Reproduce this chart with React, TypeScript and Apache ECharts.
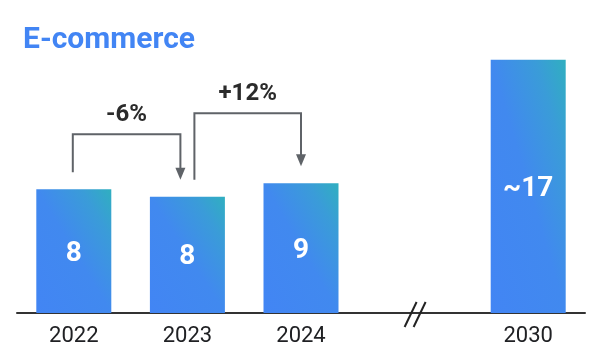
import React, { useEffect, useRef } from "react";
import * as echarts from "echarts";

const categories = ["2022", "2023", "2024", "", "2030"];
const values: (number | null)[] = [8.3, 7.8, 8.7, null, 17];
const valueLabels = ["8", "8", "9", "", "~17"];
// [fromIndex, toIndex, bracketLevel]
const changeBrackets = [
  [0, 1, 12.0],
  [1, 2, 13.4],
];
const changeLabels = ["-6%", "+12%"];
const breakAt = [[3, 0]];

const FONT = "Roboto, sans-serif";

export default function App() {
  const ref = useRef<HTMLDivElement>(null);
  useEffect(() => {
    document.body.style.margin = "0";
    const chart = echarts.init(ref.current!, null, { renderer: "svg" });
    const incoming = new Set(changeBrackets.map((b) => b[1]));
    const outgoing = new Set(changeBrackets.map((b) => b[0]));
    const lineColor = "#5f6368";

    chart.setOption({
      animation: false,
      title: {
        text: "E-commerce",
        left: 18,
        top: 17,
        textStyle: { color: "#4285F4", fontSize: 30, fontWeight: "bold", fontFamily: FONT },
      },
      grid: { left: 17, right: 19, top: 15, bottom: 45 },
      xAxis: {
        type: "category",
        data: categories,
        axisLine: { lineStyle: { color: "#333", width: 2 } },
        axisTick: { show: false },
        axisLabel: { color: "#202124", fontSize: 22, fontFamily: FONT, margin: 10 },
      },
      yAxis: { type: "value", min: 0, max: 20, show: false, splitLine: { show: false } },
      series: [
        {
          type: "bar",
          data: values,
          barWidth: 75,
          itemStyle: {
            color: new echarts.graphic.LinearGradient(0, 1, 1, 0, [
              { offset: 0, color: "#4285F4" },
              { offset: 0.5, color: "#4189ef" },
              { offset: 0.8, color: "#3a9cd8" },
              { offset: 1, color: "#30afc0" },
            ]),
          },
          label: {
            show: true,
            position: "inside",
            color: "#fff",
            fontSize: 28,
            fontWeight: "bold",
            fontFamily: FONT,
            formatter: (p: any) => valueLabels[p.dataIndex],
          },
        },
        {
          type: "custom",
          data: changeBrackets,
          encode: { x: [0, 1], y: 2 },
          z: 5,
          renderItem: (params: any, api: any) => {
            const from = api.value(0);
            const to = api.value(1);
            const level = api.value(2);
            const gap = 17;
            const fromDx = incoming.has(from) ? 7 : -1;
            const toDx = outgoing.has(to) ? -7 : 0;
            const p0 = api.coord([from, values[from] as number]);
            const p1 = api.coord([to, values[to] as number]);
            const top = api.coord([from, level])[1];
            const x0 = p0[0] + fromDx;
            const x1 = p1[0] + toDx;
            const y0 = p0[1] - gap;
            const yTip = p1[1] - gap;
            const ah = 12;
            const aw = 5;
            return {
              type: "group",
              children: [
                {
                  type: "polyline",
                  shape: { points: [[x0, y0], [x0, top], [x1, top], [x1, yTip - ah + 1]] },
                  style: { stroke: lineColor, lineWidth: 2, fill: null },
                },
                {
                  type: "polygon",
                  shape: { points: [[x1 - aw, yTip - ah], [x1 + aw, yTip - ah], [x1, yTip]] },
                  style: { fill: lineColor },
                },
                {
                  type: "text",
                  x: (x0 + x1) / 2,
                  y: top - 21,
                  style: {
                    text: changeLabels[params.dataIndex],
                    align: "center",
                    verticalAlign: "middle",
                    textAlign: "center",
                    textVerticalAlign: "middle",
                    fill: "#2b2b2b",
                    fontSize: 24,
                    fontWeight: "bold",
                    fontFamily: FONT,
                  },
                },
              ],
            };
          },
        },
        {
          type: "custom",
          data: breakAt,
          encode: { x: 0, y: 1 },
          z: 5,
          renderItem: (params: any, api: any) => {
            const c = api.coord([api.value(0), api.value(1)]);
            const s = { stroke: "#222", lineWidth: 2 };
            return {
              type: "group",
              children: [
                { type: "line", shape: { x1: c[0] - 10, y1: c[1] + 14, x2: c[0] + 2, y2: c[1] - 11 }, style: s },
                { type: "line", shape: { x1: c[0] - 1, y1: c[1] + 14, x2: c[0] + 11, y2: c[1] - 11 }, style: s },
              ],
            };
          },
        },
      ],
    });
    return () => chart.dispose();
  }, []);
  return (
    <div
      ref={ref}
      style={{ width: 604, height: 358, position: "fixed", left: 0, top: 0 }}
    />
  );
}
